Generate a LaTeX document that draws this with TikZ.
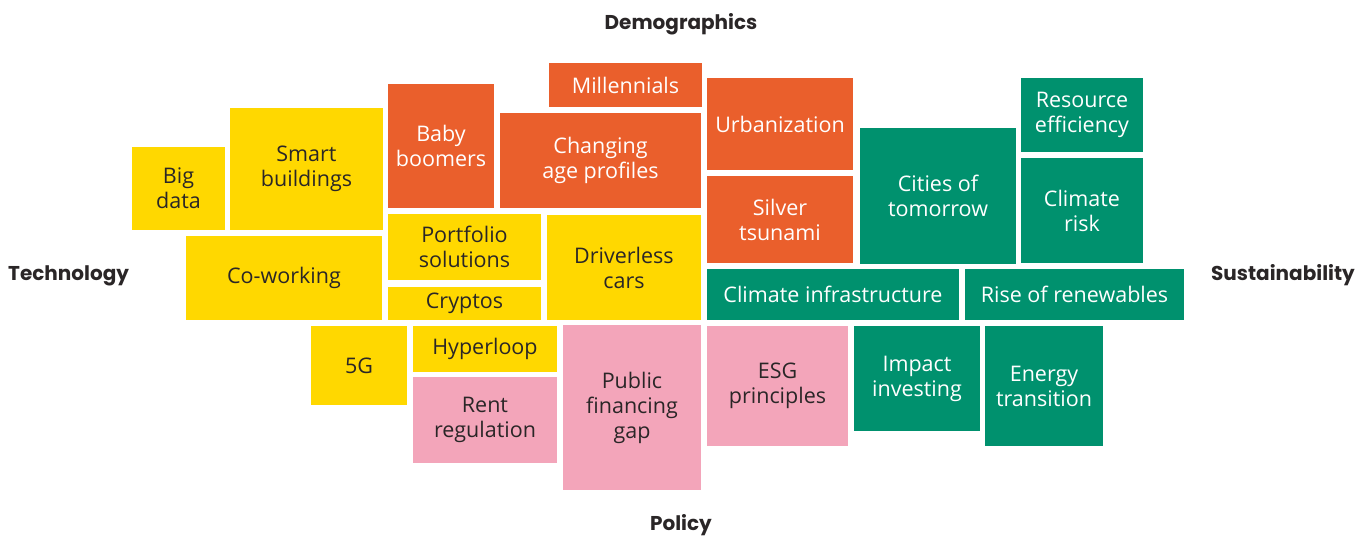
\documentclass[tikz,border=0pt]{standalone}
\usepackage{fontspec}
\setmainfont{Open Sans}
\newfontfamily\headfont{Poppins}
\usepackage{tikz}

\definecolor{techyellow}{HTML}{FFD800}
\definecolor{demoorange}{HTML}{EA5F2C}
\definecolor{sustgreen}{HTML}{00916E}
\definecolor{policypink}{HTML}{F3A5BA}
\definecolor{inkdark}{HTML}{2A2627}

\begin{document}
\begin{tikzpicture}[x=1pt,y=-1pt,
  tile/.style={inner sep=0pt, align=center, font=\fontsize{21.5}{25}\selectfont},
  tech/.style={tile, fill=techyellow, text=inkdark},
  demo/.style={tile, fill=demoorange, text=white},
  sust/.style={tile, fill=sustgreen, text=white},
  pol/.style={tile, fill=policypink, text=inkdark},
  axis/.style={inner sep=0pt, text=inkdark, font=\headfont\bfseries\fontsize{20}{24}\selectfont}]

\useasboundingbox (0,0) rectangle (1369,537);

% technology
\node[tech, minimum width=93pt, minimum height=83pt] (bigdata) at (178.5,188.5) {Big\\data};
\node[tech, minimum width=153pt, minimum height=122pt] (smart) at (306.5,169) {Smart\\buildings};
\node[tech, minimum width=196pt, minimum height=84pt] (cowork) at (284,278) {Co-working};
\node[tech, minimum width=153pt, minimum height=66pt] (portfolio) at (464.5,247) {Portfolio\\solutions};
\node[tech, minimum width=153pt, minimum height=33pt] (cryptos) at (464.5,303.5) {Cryptos};
\node[tech, minimum width=154pt, minimum height=105pt] (driverless) at (624,267.5) {Driverless\\cars};
\node[tech, minimum width=96pt, minimum height=79pt] (fiveg) at (359,365.5) {5G};
\node[tech, minimum width=144pt, minimum height=46pt] (hyperloop) at (485,349) {Hyperloop};

% demographics
\node[demo, minimum width=106pt, minimum height=124pt] (boomers) at (441,146) {Baby\\boomers};
\node[demo, minimum width=153pt, minimum height=44pt] (millennials) at (625.5,85) {Millennials};
\node[demo, minimum width=201pt, minimum height=95pt] (ageprof) at (600.5,160.5) {Changing\\age profiles};
\node[demo, minimum width=146pt, minimum height=92pt] (urban) at (780,124) {Urbanization};
\node[demo, minimum width=146pt, minimum height=87pt] (silver) at (780,219.5) {Silver\\tsunami};

% sustainability
\node[sust, minimum width=156pt, minimum height=136pt] (cities) at (938,196) {Cities of\\tomorrow};
\node[sust, minimum width=122pt, minimum height=74pt] (resource) at (1082,115) {Resource\\efficiency};
\node[sust, minimum width=122pt, minimum height=105pt] (climrisk) at (1082,210.5) {Climate\\risk};
\node[sust, minimum width=252pt, minimum height=51pt] (climinfra) at (833,294.5) {Climate infrastructure};
\node[sust, minimum width=219pt, minimum height=51pt] (renew) at (1074.5,294.5) {Rise of renewables};
\node[sust, minimum width=126pt, minimum height=105pt] (impact) at (917,378.5) {Impact\\investing};
\node[sust, minimum width=118pt, minimum height=120pt] (energy) at (1044,386) {Energy\\transition};

% policy
\node[pol, minimum width=144pt, minimum height=86pt] (rent) at (485,420) {Rent\\regulation};
\node[pol, minimum width=138pt, minimum height=165pt] (publicgap) at (632,407.5) {Public\\financing\\gap};
\node[pol, minimum width=141pt, minimum height=120pt] (esg) at (777.5,386) {ESG\\principles};

% axis labels
\node[axis, anchor=base] (demographics) at (681,30) {Demographics};
\node[axis, anchor=base west] (technology) at (8,281) {Technology};
\node[axis, anchor=base east] (sustainability) at (1355,281) {Sustainability};
\node[axis, anchor=base] (policy) at (681,530) {Policy};

\end{tikzpicture}
\end{document}
